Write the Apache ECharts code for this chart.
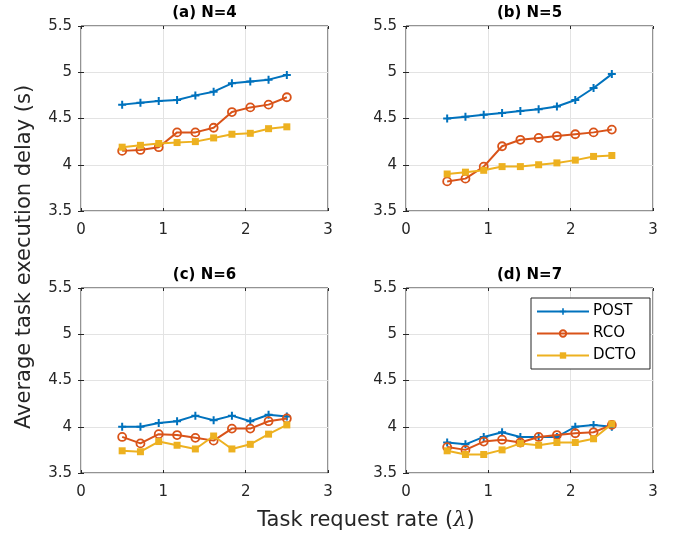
<!DOCTYPE html>
<html><head><meta charset="utf-8">
<script src="https://cdn.jsdelivr.net/npm/echarts@6/dist/echarts.min.js"></script>
<style>html,body{margin:0;padding:0;background:#fff}#c{width:686px;height:539px}</style>
</head><body><div id="c"></div>
<script>
const xRate = [0.5, 0.722, 0.944, 1.167, 1.389, 1.611, 1.833, 2.056, 2.278, 2.5];
const panelTitles = ['(a) N=4', '(b) N=5', '(c) N=6', '(d) N=7'];
const seriesNames = ['POST', 'RCO', 'DCTO'];
const xLabel = 'Task request rate';
const yLabel = 'Average task execution delay (s)';

const postN4 = [4.65, 4.67, 4.69, 4.70, 4.75, 4.79, 4.88, 4.90, 4.92, 4.97];
const rcoN4  = [4.15, 4.16, 4.19, 4.35, 4.35, 4.40, 4.57, 4.62, 4.65, 4.73];
const dctoN4 = [4.19, 4.21, 4.23, 4.24, 4.25, 4.29, 4.33, 4.34, 4.39, 4.41];

const postN5 = [4.50, 4.52, 4.54, 4.56, 4.58, 4.60, 4.63, 4.70, 4.83, 4.98];
const rcoN5  = [3.82, 3.85, 3.98, 4.20, 4.27, 4.29, 4.31, 4.33, 4.35, 4.38];
const dctoN5 = [3.90, 3.92, 3.94, 3.98, 3.98, 4.00, 4.02, 4.05, 4.09, 4.10];

const postN6 = [4.00, 4.00, 4.04, 4.06, 4.12, 4.07, 4.12, 4.06, 4.13, 4.11];
const rcoN6  = [3.89, 3.82, 3.92, 3.91, 3.88, 3.85, 3.98, 3.98, 4.06, 4.09];
const dctoN6 = [3.74, 3.73, 3.84, 3.80, 3.76, 3.90, 3.76, 3.81, 3.92, 4.02];

const postN7 = [3.83, 3.81, 3.89, 3.94, 3.89, 3.89, 3.89, 4.00, 4.02, 4.00];
const rcoN7  = [3.78, 3.75, 3.84, 3.86, 3.83, 3.89, 3.91, 3.93, 3.94, 4.02];
const dctoN7 = [3.74, 3.70, 3.70, 3.75, 3.82, 3.80, 3.83, 3.83, 3.87, 4.03];

const panels = [
  [postN4, rcoN4, dctoN4],
  [postN5, rcoN5, dctoN5],
  [postN6, rcoN6, dctoN6],
  [postN7, rcoN7, dctoN7]
];

const FONT = '"DejaVu Sans", Verdana, sans-serif';
const INK = '#262626';
const colors = ['#0072BD', '#D95319', '#EDB120'];
const plusPath = 'path://M3.75,0H6.25V3.75H10V6.25H6.25V10H3.75V6.25H0V3.75H3.75Z';

const gridPos = [
  {left: 81, top: 26}, {left: 406, top: 26},
  {left: 81, top: 288}, {left: 406, top: 288}
];
const GW = 247, GH = 185;

const grids = [], xAxes = [], yAxes = [], series = [], graphics = [];
gridPos.forEach((g, p) => {
  grids.push({left: g.left, top: g.top, width: GW, height: GH, show: true,
    borderColor: INK, borderWidth: 1, backgroundColor: '#fff', containLabel: false});
  const commonX = {type: 'value', min: 0, max: 3, interval: 1, gridIndex: p,
    axisLine: {show: false},
    axisTick: {show: true, inside: true, length: 3, lineStyle: {color: INK}}};
  const commonY = {type: 'value', min: 3.5, max: 5.5, interval: 0.5, gridIndex: p,
    axisLine: {show: false},
    axisTick: {show: true, inside: true, length: 3, lineStyle: {color: INK}}};
  xAxes.push(Object.assign({}, commonX, {position: 'bottom',
    axisLabel: {color: INK, fontSize: 15, fontFamily: FONT, margin: 12},
    splitLine: {show: true, lineStyle: {color: '#e3e3e3', width: 1}}}));
  xAxes.push(Object.assign({}, commonX, {position: 'top',
    axisLabel: {show: false}, splitLine: {show: false}}));
  yAxes.push(Object.assign({}, commonY, {position: 'left',
    axisLabel: {color: INK, fontSize: 15, fontFamily: FONT, margin: 9},
    splitLine: {show: true, lineStyle: {color: '#e3e3e3', width: 1}}}));
  yAxes.push(Object.assign({}, commonY, {position: 'right',
    axisLabel: {show: false}, splitLine: {show: false}}));

  panels[p].forEach((vals, s) => {
    const base = {
      name: seriesNames[s], type: 'line', xAxisIndex: p * 2, yAxisIndex: p * 2,
      data: xRate.map((x, i) => [x, vals[i]]),
      lineStyle: {color: colors[s], width: 2},
      color: colors[s],
      z: 3 + s,
      emphasis: {disabled: true}
    };
    if (s === 0) {
      base.symbol = plusPath; base.symbolSize = 8;
      base.itemStyle = {color: colors[s]};
    } else if (s === 1) {
      base.symbol = 'circle'; base.symbolSize = 8;
      base.itemStyle = {color: 'rgba(255,255,255,0)', borderColor: colors[s], borderWidth: 1.8};
    } else {
      base.symbol = 'rect'; base.symbolSize = 7;
      base.itemStyle = {color: colors[s]};
    }
    base.showAllSymbol = true;
    series.push(base);
  });

  graphics.push({type: 'text', x: g.left + GW / 2, y: g.top - 13,
    style: {text: panelTitles[p], font: 'bold 15px ' + FONT, fill: '#000',
      textAlign: 'center', textVerticalAlign: 'middle'}});
});

graphics.push({type: 'text', x: 25, y: 257, rotation: Math.PI / 2,
  style: {text: yLabel, font: '21px ' + FONT, fill: INK,
    textAlign: 'center', textVerticalAlign: 'middle'}});
graphics.push({type: 'text', x: 366, y: 521,
  style: {text: '{n|' + xLabel + ' (}{i|λ}{n|)}', textAlign: 'center', textVerticalAlign: 'middle',
    rich: {
      n: {fontSize: 21, fontFamily: FONT, fill: INK, color: INK},
      i: {fontSize: 21, fontFamily: '"DejaVu Serif", "Liberation Serif", serif', fontStyle: 'italic', fill: INK, color: INK}
    }}});

const chart = echarts.init(document.getElementById('c'), null, {renderer: 'canvas'});
chart.setOption({
  animation: false,
  backgroundColor: '#fff',
  grid: grids,
  xAxis: xAxes,
  yAxis: yAxes,
  series: series,
  legend: {
    data: seriesNames, orient: 'vertical', left: 531, top: 298,
    padding: [6, 14, 6, 5], itemGap: 7, itemWidth: 52, itemHeight: 8,
    borderColor: INK, borderWidth: 1, backgroundColor: '#fff',
    selectedMode: false,
    textStyle: {fontSize: 15, fontFamily: FONT, color: '#000', padding: [0, 0, 0, -1]}
  },
  graphic: graphics
});
</script></body></html>
